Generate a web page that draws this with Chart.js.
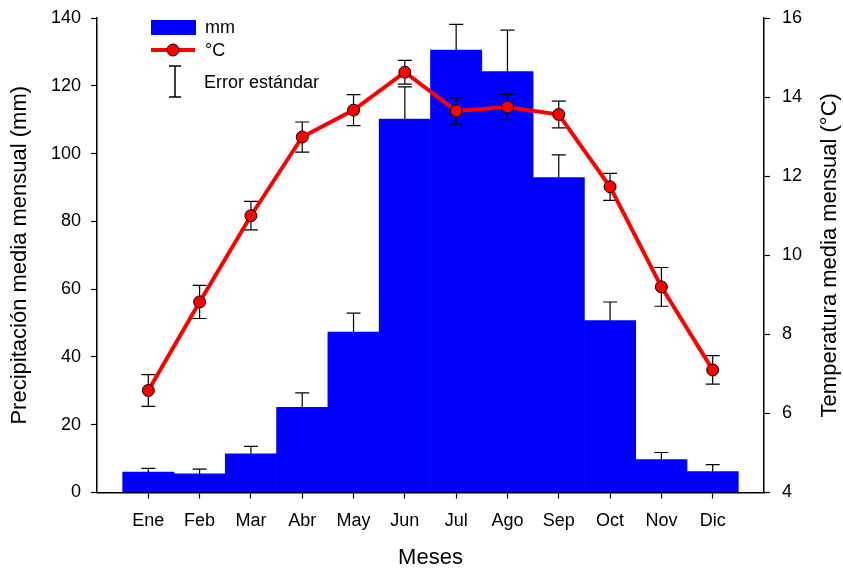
<!DOCTYPE html>
<html>
<head>
<meta charset="utf-8">
<script src="https://cdn.jsdelivr.net/npm/chart.js@4"></script>
<style>
  body { margin: 0; background: #fff; }
  canvas { display: block; }
</style>
</head>
<body>
<canvas id="clima-chart" width="843" height="570"></canvas>
<script>
// valores
var months = ['Ene', 'Feb', 'Mar', 'Abr', 'May', 'Jun', 'Jul', 'Ago', 'Sep', 'Oct', 'Nov', 'Dic'];
var precip = [6.0, 5.5, 11.4, 25.1, 47.3, 110.2, 130.5, 124.2, 92.9, 50.7, 9.7, 6.2];
var precipErr = [1.1, 1.4, 2.2, 4.3, 5.6, 9.5, 7.6, 12.2, 6.7, 5.5, 2.1, 2.0];
var temp = [6.58, 8.82, 11.0, 12.99, 13.67, 14.63, 13.65, 13.75, 13.56, 11.73, 9.2, 7.1];
var tempErr = [0.40, 0.42, 0.36, 0.38, 0.39, 0.30, 0.33, 0.32, 0.34, 0.34, 0.49, 0.36];
var precipTicks = [0, 20, 40, 60, 80, 100, 120, 140];
var tempTicks = [4, 6, 8, 10, 12, 14, 16];

var FONT = 'Liberation Sans, Arial, sans-serif';

// error bars: drawn after the bars, before the line
var errorBars = {
  id: 'errorBars',
  afterDatasetDraw: function (chart, args) {
    if (args.index !== 0) return;
    var c = chart.ctx, x = chart.scales.x, y = chart.scales.y, y1 = chart.scales.y1;
    c.save();
    c.strokeStyle = '#000';
    c.lineWidth = 1.2;
    function cap(px, py) {
      c.moveTo(px - 7, py); c.lineTo(px + 7, py);
    }
    c.beginPath();
    precip.forEach(function (v, i) {
      var px = x.getPixelForValue(i + 1);
      var top = y.getPixelForValue(v + precipErr[i]);
      c.moveTo(px, y.getPixelForValue(v)); c.lineTo(px, top);
      cap(px, top);
    });
    temp.forEach(function (v, i) {
      var px = x.getPixelForValue(i + 1);
      var hi = y1.getPixelForValue(v + tempErr[i]);
      var lo = y1.getPixelForValue(v - tempErr[i]);
      c.moveTo(px, hi); c.lineTo(px, lo);
      cap(px, hi); cap(px, lo);
    });
    c.stroke();
    c.restore();
  },
  afterDraw: function (chart) {
    var c = chart.ctx, area = chart.chartArea;
    c.save();
    // axis titles
    c.fillStyle = '#000';
    c.font = '22px ' + FONT;
    c.textAlign = 'center';
    c.textBaseline = 'middle';
    var midY = (area.top + area.bottom) / 2;
    c.save();
    c.translate(20, midY);
    c.rotate(-Math.PI / 2);
    c.fillText('Precipitación media mensual (mm)', 0, 0);
    c.restore();
    c.save();
    c.translate(830, midY);
    c.rotate(-Math.PI / 2);
    c.fillText('Temperatura media mensual (°C)', 0, 0);
    c.restore();
    c.fillText('Meses', (area.left + area.right) / 2, 558);

    // legend
    c.font = '18px ' + FONT;
    c.textAlign = 'left';
    c.fillStyle = '#0000ff';
    c.fillRect(151, 20, 45, 15);
    c.fillStyle = '#000';
    c.fillText('mm', 205, 28);
    c.strokeStyle = '#ff0000';
    c.lineWidth = 4;
    c.beginPath(); c.moveTo(151, 50); c.lineTo(195, 50); c.stroke();
    c.beginPath(); c.arc(173, 50, 6, 0, Math.PI * 2);
    c.fillStyle = '#ff0000'; c.fill();
    c.lineWidth = 1; c.strokeStyle = '#000'; c.stroke();
    c.fillStyle = '#000';
    c.fillText('°C', 205, 51);
    c.lineWidth = 1.5;
    c.beginPath();
    c.moveTo(175, 66); c.lineTo(175, 97);
    c.moveTo(169, 66); c.lineTo(181, 66);
    c.moveTo(169, 97); c.lineTo(181, 97);
    c.stroke();
    c.fillText('Error estándar', 204, 83);
    c.restore();
  }
};

var ctx1 = document.getElementById('clima-chart').getContext('2d');

var climaChart = new Chart(ctx1, {
  type: 'bar',
  data: {
    datasets: [{
      label: 'mm',
      data: precip.map(function (v, i) { return { x: i + 1, y: v }; }),
      backgroundColor: '#0000ff',
      borderWidth: 0,
      barPercentage: 1.0,
      categoryPercentage: 1.0,
      yAxisID: 'y',
      order: 1
    }, {
      type: 'line',
      label: '°C',
      data: temp.map(function (v, i) { return { x: i + 1, y: v }; }),
      borderColor: '#ff0000',
      borderWidth: 4,
      pointRadius: 6,
      pointBackgroundColor: '#ff0000',
      pointBorderColor: '#000',
      pointBorderWidth: 1,
      tension: 0,
      yAxisID: 'y1',
      order: 0
    }]
  },
  options: {
    responsive: false,
    animation: false,
    layout: { padding: { top: 18, left: 0, right: 0, bottom: 0 } },
    plugins: {
      legend: { display: false },
      tooltip: { enabled: false }
    },
    scales: {
      x: {
        type: 'linear',
        min: 0,
        max: 13,
        offset: false,
        afterBuildTicks: function (s) {
          s.ticks = months.map(function (m, i) { return { value: i + 1 }; });
        },
        afterFit: function (s) { s.height = 77.5; s.paddingLeft = 0; s.paddingRight = 0; },
        grid: { offset: false, drawOnChartArea: false, drawTicks: true, tickLength: 6, tickColor: '#000', tickWidth: 1.2 },
        border: { display: true, color: '#000', width: 1.5 },
        ticks: {
          color: '#000',
          font: { family: FONT, size: 18 },
          padding: 12,
          maxRotation: 0,
          callback: function (v) { return months[v - 1]; }
        }
      },
      y: {
        position: 'left',
        min: 0,
        max: 140,
        afterBuildTicks: function (s) {
          s.ticks = precipTicks.map(function (v) { return { value: v }; });
        },
        afterFit: function (s) { s.width = 97; s.paddingTop = 0; s.paddingBottom = 0; },
        grid: { drawOnChartArea: false, drawTicks: true, tickLength: 6, tickColor: '#000', tickWidth: 1.2 },
        border: { display: true, color: '#000', width: 1.5 },
        ticks: { color: '#000', font: { family: FONT, size: 18 }, padding: 10 }
      },
      y1: {
        position: 'right',
        min: 4,
        max: 16,
        afterBuildTicks: function (s) {
          s.ticks = tempTicks.map(function (v) { return { value: v }; });
        },
        afterFit: function (s) { s.width = 79; s.paddingTop = 0; s.paddingBottom = 0; },
        grid: { drawOnChartArea: false, drawTicks: true, tickLength: 6, tickColor: '#000', tickWidth: 1.2 },
        border: { display: true, color: '#000', width: 1.5 },
        ticks: { color: '#000', font: { family: FONT, size: 18 }, padding: 12 }
      }
    }
  },
  plugins: [errorBars]
});
</script>
</body>
</html>
